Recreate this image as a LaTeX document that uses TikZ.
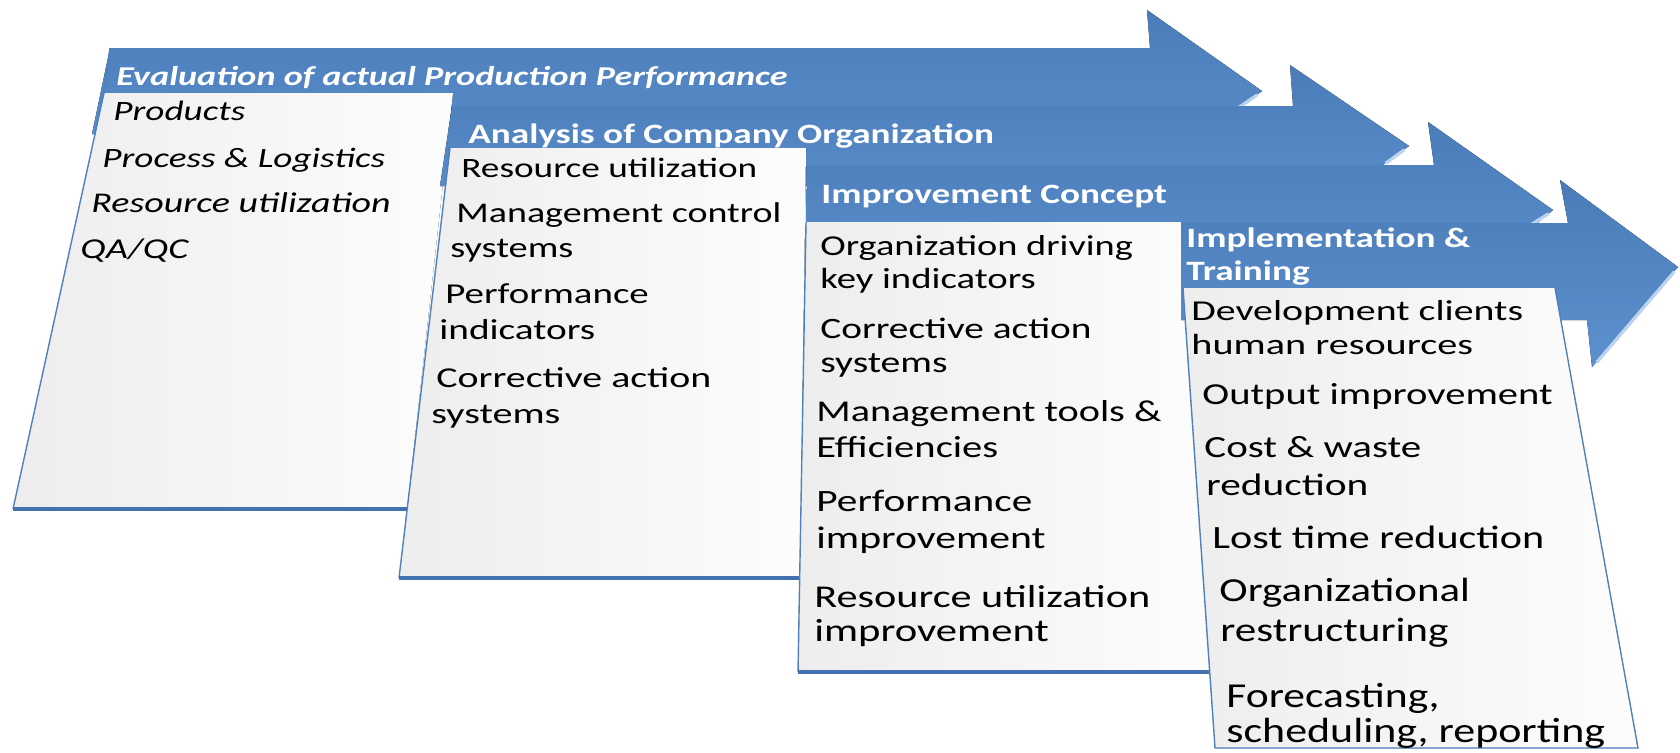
\documentclass[tikz,border=0pt]{standalone}
\usepackage{fontspec}
\setmainfont{Carlito}
\usepackage{graphicx}
\definecolor{stageblue}{HTML}{4F81BD}
\definecolor{stagetop}{HTML}{4A7CB9}
\definecolor{stagebot}{HTML}{5D90CE}
\definecolor{bevelblue}{HTML}{B9D3F0}
\definecolor{edgeblue}{HTML}{4472B0}
\NewDocumentCommand{\stretched}{O{1} O{#1} m}{\scalebox{\fpeval{1.33*#1}}[#2]{#3}}

\begin{document}
\begin{tikzpicture}[x=0.5pt,y=-0.5pt,
  stagearrow/.style={top color=stagetop, bottom color=stagebot},
  stagebox/.style={left color=black!7, right color=black!1},
  sideline/.style={draw=stageblue, line width=0.7pt},
  footline/.style={draw=edgeblue, line width=2.2pt},
  bevel/.style={draw=bevelblue, line width=1.6pt, line cap=round},
  headtext/.style={anchor=base west, inner sep=0pt, text=white,
    font=\fontsize{14}{17}\selectfont\bfseries},
  itemtext/.style={anchor=base west, inner sep=0pt, text=black,
    font=\fontsize{14}{17}\selectfont},
  evalitem/.style={itemtext, font=\fontsize{14}{17}\selectfont\itshape}]
\useasboundingbox (0,0) rectangle (1680,752);

% stage 1
\fill[stagearrow] (110,48) -- (1150,48) -- (1147,10) -- (1262,91) -- (1155,172)
  -- (1153,134) -- (92,134) -- cycle;
\draw[bevel] (1257,95) -- (1238,108);
\fill[stagebox] (104,93) -- (453,93) -- (407,509) -- (13,509) -- cycle;
\draw[sideline] (110,48) -- (104,93) -- (13,509);
\draw[footline] (13,509) -- (407,509);

% stage 2
\fill[stagearrow] (452,106) -- (1293,106) -- (1290,65) -- (1409,146) -- (1297,228)
  -- (1296,186) -- (440,186) -- cycle;
\draw[bevel] (1404,150) -- (1386,163);
\fill[stagebox] (450,148) -- (806,148) -- (800,578) -- (399,578) -- cycle;
\draw[sideline] (450,148) -- (399,578);
\draw[footline] (399,578) -- (800,578);

% stage 3
\fill[stagearrow] (807,165) -- (1434,165) -- (1428,122) -- (1553,210) -- (1445,300)
  -- (1442,257) -- (806,257) -- cycle;
\draw[bevel] (1548,214) -- (1529,226);
\fill[stagebox] (806,222) -- (1181,222) -- (1210,672) -- (798,672) -- cycle;
\draw[sideline] (806,222) -- (798,672);
\draw[footline] (798,672) -- (1210,672);

% stage 4
\fill[stagearrow] (1181,223) -- (1568,223) -- (1560,180) -- (1678,267) -- (1592,367)
  -- (1587,320) -- (1181,320) -- cycle;
\draw[bevel] (1674,272) -- (1597,362);
\fill[stagebox] (1183,288) -- (1555,288) -- (1638,748) -- (1215,748) -- cycle;
\draw[sideline] (1183,288) -- (1215,748) -- (1638,748) -- (1555,288);

% stage titles
\node[headtext, font=\fontsize{13.6}{17}\selectfont\bfseries\itshape] (evalhead) at (116,85)
  {\stretched{Evaluation of actual Production Performance}};
\node[headtext] (orghead) at (468,143) {\stretched{Analysis of Company Organization}};
\node[headtext] (concepthead) at (821,203) {\stretched{Improvement Concept}};
\node[headtext] (implhead) at (1186,247) {\stretched{Implementation \&}};
\node[headtext] (trainhead) at (1186,280) {\stretched{Training}};

% stage 1 items
\node[evalitem] (evalA) at (113,120) {\stretched{Products}};
\node[evalitem] (evalB) at (102,167) {\stretched{Process \& Logistics}};
\node[evalitem] (evalC) at (91,212) {\stretched[1.02]{Resource utilization}};
\node[evalitem] (evalD) at (80,258) {\stretched[1.03]{QA/QC}};

% stage 2 items
\node[itemtext] (orgA) at (461,177) {\stretched{Resource utilization}};
\node[itemtext] (orgB) at (456,222) {\stretched[1.02]{Management control}};
\node[itemtext] (orgB2) at (450,257) {\stretched[1.03]{systems}};
\node[itemtext] (orgC) at (445,303) {\stretched[1.045][1.03]{Performance}};
\node[itemtext] (orgC2) at (439,339) {\stretched[1.055][1.03]{indicators}};
\node[itemtext] (orgD) at (436,387) {\stretched[1.07][1.03]{Corrective action}};
\node[itemtext] (orgD2) at (431,423) {\stretched[1.08][1.03]{systems}};

% stage 3 items
\node[itemtext] (conceptA) at (820,255) {\stretched[1.03]{Organization driving}};
\node[itemtext] (conceptA2) at (820,288) {\stretched[1.04]{key indicators}};
\node[itemtext] (conceptB) at (820,338) {\stretched[1.055]{Corrective action}};
\node[itemtext] (conceptB2) at (820,372) {\stretched[1.065]{systems}};
\node[itemtext] (conceptC) at (816,421) {\stretched[1.08]{Management tools \&}};
\node[itemtext] (conceptC2) at (816,457) {\stretched[1.09]{Efficiencies}};
\node[itemtext] (conceptD) at (816,511) {\stretched[1.11]{Performance}};
\node[itemtext] (conceptD2) at (816,548) {\stretched[1.12]{improvement}};
\node[itemtext] (conceptE) at (814,607) {\stretched[1.135]{Resource utilization}};
\node[itemtext] (conceptE2) at (814,641) {\stretched[1.145]{improvement}};

% stage 4 items
\node[itemtext] (implA) at (1191,320) {\stretched[1.07][1.03]{Development clients}};
\node[itemtext] (implA2) at (1191,354) {\stretched[1.08][1.04]{human resources}};
\node[itemtext] (implB) at (1202,404) {\stretched[1.09]{Output improvement}};
\node[itemtext] (implC) at (1204,457) {\stretched[1.10]{Cost \& waste}};
\node[itemtext] (implC2) at (1206,495) {\stretched[1.11]{reduction}};
\node[itemtext] (implD) at (1212,548) {\stretched[1.13][1.16]{Lost time reduction}};
\node[itemtext] (implE) at (1219,601) {\stretched[1.15][1.2]{Organizational}};
\node[itemtext] (implE2) at (1220,641) {\stretched[1.16][1.21]{restructuring}};
\node[itemtext] (implF) at (1226,707) {\stretched[1.17][1.25]{Forecasting,}};
\node[itemtext] (implF2) at (1226,742) {\stretched[1.18][1.25]{scheduling, reporting}};
\end{tikzpicture}
\end{document}
